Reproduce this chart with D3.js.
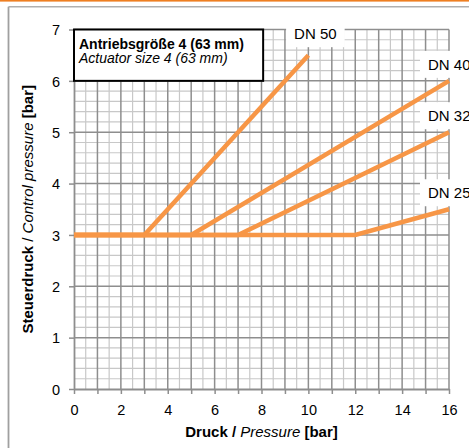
<!DOCTYPE html>
<html>
<head>
<meta charset="utf-8">
<script src="https://cdn.jsdelivr.net/npm/d3@7/dist/d3.min.js"></script>
<style>
  body { margin: 0; background: #fff; }
  svg { display: block; font-family: "Liberation Sans", Arial, sans-serif; }
</style>
</head>
<body>
<svg id="chart" width="469" height="448"></svg>
<script>
// Data
const seriesNames = ["DN 50", "DN 40", "DN 32", "DN 25"];
const basePressure = 0;
const baseControl = 3;
const kneePressure = [3, 5, 7, 12];
const endPressure = [10, 16, 16, 16];
const endControl = [6.5, 6, 5, 3.5];

const xTickLabels = [0, 2, 4, 6, 8, 10, 12, 14, 16];
const yTickLabels = [0, 1, 2, 3, 4, 5, 6, 7];

const svg = d3.select("#chart");
const W = +svg.attr("width"), H = +svg.attr("height");
const margin = { top: 29.5, right: 20, bottom: 59, left: 74 };
const width = W - margin.left - margin.right;
const height = H - margin.top - margin.bottom;

// page frame
svg.append("rect").attr("x", 0).attr("y", 0).attr("width", W).attr("height", 1.6).attr("fill", "#ee7f22");
svg.append("line").attr("x1", 8.5).attr("x2", W).attr("y1", 6.8).attr("y2", 6.8)
    .attr("stroke", "#b0b0b0").attr("stroke-width", 1.5);
svg.append("line").attr("x1", 8.5).attr("x2", 8.5).attr("y1", 6.8).attr("y2", H)
    .attr("stroke", "#a0a0a0").attr("stroke-width", 1.8);

const g = svg.append("g")
    .attr("transform", `translate(${margin.left},${margin.top})`);

const x = d3.scaleLinear().domain([0, 16]).range([0, width]);
const y = d3.scaleLinear().domain([0, 7]).range([height, 0]);

// minor grid
g.append("g").selectAll("line")
    .data(d3.range(0.5, 16, 1))
    .enter().append("line")
    .attr("x1", d => x(d)).attr("x2", d => x(d))
    .attr("y1", 0).attr("y2", height)
    .attr("stroke", "#c8c8c8").attr("stroke-width", 1.2);

g.append("g").selectAll("line")
    .data(d3.range(0, 35).filter(i => i % 5 !== 0).map(i => i / 5))
    .enter().append("line")
    .attr("x1", 0).attr("x2", width)
    .attr("y1", d => y(d)).attr("y2", d => y(d))
    .attr("stroke", "#c8c8c8").attr("stroke-width", 1.2);

// major grid
g.append("g").selectAll("line")
    .data(d3.range(1, 17))
    .enter().append("line")
    .attr("x1", d => x(d)).attr("x2", d => x(d))
    .attr("y1", 0).attr("y2", height)
    .attr("stroke", "#8e8e8e").attr("stroke-width", 1.5);

g.append("g").selectAll("line")
    .data(d3.range(1, 8))
    .enter().append("line")
    .attr("x1", 0).attr("x2", width)
    .attr("y1", d => y(d)).attr("y2", d => y(d))
    .attr("stroke", "#8e8e8e").attr("stroke-width", 1.5);

// Axes
const xAxis = g.append("g")
    .attr("transform", `translate(0,${height})`)
    .call(d3.axisBottom(x).tickValues(d3.range(0, 17)).tickSize(5).tickSizeOuter(0)
        .tickFormat(d => xTickLabels.includes(d) ? d : ""));
const yAxis = g.append("g")
    .call(d3.axisLeft(y).tickValues(yTickLabels).tickSize(5).tickSizeOuter(0)
        .tickFormat(d3.format("d")));

[xAxis, yAxis].forEach(a => {
    a.select(".domain").attr("stroke", "#8e8e8e").attr("stroke-width", 1.8);
    a.selectAll(".tick line").attr("stroke", "#8e8e8e").attr("stroke-width", 1.5);
    a.selectAll(".tick text").attr("fill", "#000").style("font-size", "14.5px")
        .style("font-family", "Liberation Sans, Arial, sans-serif");
});
xAxis.selectAll(".tick text").attr("dy", "0").attr("y", 26);
yAxis.selectAll(".tick text").attr("x", -14).attr("dy", "0.36em");

// Annotation box
g.append("rect")
    .attr("x", x(0)).attr("y", y(7))
    .attr("width", x(8.07) - x(0)).attr("height", y(6) - y(7))
    .attr("fill", "#fff").attr("stroke", "#000").attr("stroke-width", 2);
g.append("text")
    .attr("x", x(0) + 5).attr("y", y(7) + 19)
    .style("font-size", "14px").style("font-weight", "bold")
    .text("Antriebsgröße 4 (63 mm)");
g.append("text")
    .attr("x", x(0) + 5).attr("y", y(7) + 33)
    .style("font-size", "14px").style("font-style", "italic")
    .text("Actuator size 4 (63 mm)");

// Curves
const line = d3.line().x(d => x(d[0])).y(d => y(d[1]));
seriesNames.forEach((name, i) => {
    const pts = [
        [basePressure, baseControl],
        [kneePressure[i], baseControl],
        [endPressure[i], endControl[i]]
    ];
    g.append("path")
        .datum(pts)
        .attr("d", line)
        .attr("fill", "none")
        .attr("stroke", "#f79646")
        .attr("stroke-width", 4.5)
        .attr("stroke-linejoin", "miter");
});

// Series labels with white background (the right ones run off the page, as in the original)
seriesNames.forEach((name, i) => {
    const ex = x(endPressure[i]), ey = y(endControl[i]);
    const top = i === 0;
    const lbl = g.append("g");
    const t = lbl.append("text")
        .attr("x", top ? ex + 7 : ex - 21)
        .attr("y", top ? ey - 16 : ey - 11)
        .attr("text-anchor", top ? "middle" : "start")
        .style("font-size", "15px")
        .text(name);
    const b = t.node().getBBox();
    lbl.insert("rect", "text")
        .attr("x", b.x - 8).attr("y", b.y - 5)
        .attr("width", b.width + 16).attr("height", b.height + 10)
        .attr("fill", "#fff");
});

// Axis titles
const xt = svg.append("text")
    .attr("x", margin.left + width / 2)
    .attr("y", 437)
    .attr("text-anchor", "middle")
    .style("font-size", "15px");
xt.append("tspan").style("font-weight", "bold").text("Druck / ");
xt.append("tspan").style("font-style", "italic").text("Pressure");
xt.append("tspan").style("font-weight", "bold").text(" [bar]");

const yt = svg.append("text")
    .attr("transform", `translate(33,${margin.top + height / 2}) rotate(-90)`)
    .attr("text-anchor", "middle")
    .style("font-size", "15px");
yt.append("tspan").style("font-weight", "bold").text("Steuerdruck");
yt.append("tspan").text(" / ");
yt.append("tspan").style("font-style", "italic").text("Control pressure");
yt.append("tspan").style("font-weight", "bold").text(" [bar]");
</script>
</body>
</html>
